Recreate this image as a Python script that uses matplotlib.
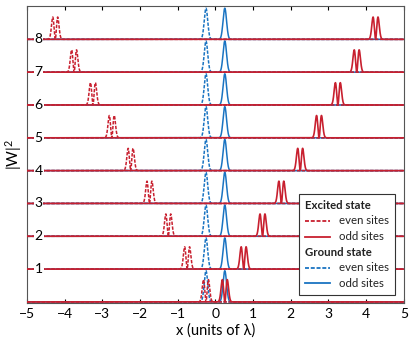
import numpy as np
import matplotlib
matplotlib.use("Agg")
import matplotlib.pyplot as plt
from matplotlib.lines import Line2D
from matplotlib.offsetbox import TextArea, DrawingArea, HPacker, VPacker, AnchoredOffsetbox

plt.rcParams['font.family'] = ['Lato', 'DejaVu Sans']

# ---- data ----
levels = [0, 1, 2, 3, 4, 5, 6, 7, 8]
excited_odd_centers = [0.25, 0.75, 1.25, 1.75, 2.25, 2.75, 3.25, 3.75, 4.25]
excited_even_centers = [-0.25, -0.75, -1.25, -1.75, -2.25, -2.75, -3.25, -3.75, -4.25]
ground_even_center = -0.25
ground_odd_center = 0.25
ground_height = 0.95
excited_height = 0.68
peak_width = 0.046
xticks = [-5, -4, -3, -2, -1, 0, 1, 2, 3, 4, 5]
xtick_labels = ['\u22125', '\u22124', '\u22123', '\u22122', '\u22121', '0', '1', '2', '3', '4', '5']
ytick_labels = ['1', '2', '3', '4', '5', '6', '7', '8']

red = '#c8202f'
blue = '#1a74c2'
dot = (0, (2.2, 1.0))

x = np.linspace(-5, 5, 6001)

def ground(c):
    return ground_height * np.exp(-(x - c) ** 2 / (2 * peak_width ** 2))

def excited(c):
    u = (x - c) / peak_width
    return excited_height * (u ** 2 / 2.0) * np.exp(1 - u ** 2 / 2.0)

fig = plt.figure(figsize=(4.15, 3.45), dpi=100)
ax = fig.add_axes([0.065, 0.122, 0.908, 0.861])

for i, n in enumerate(levels):
    ax.plot(x, n + ground(ground_even_center), color=blue, lw=1.1, ls=dot, zorder=2)
    ax.plot(x, n + ground(ground_odd_center), color=blue, lw=1.1, zorder=2)
    ax.plot(x, n + excited(excited_even_centers[i]), color=red, lw=1.1, ls=dot, zorder=3)
    ax.plot(x, n + excited(excited_odd_centers[i]), color=red, lw=1.2, zorder=4)

ax.set_xlim(-5, 5)
ax.set_ylim(-0.03, 9.02)
ax.set_xticks(xticks)
ax.set_xticklabels(xtick_labels)
ax.tick_params(axis='x', direction='in', top=True, length=3, labelsize=10, pad=4)
ax.set_yticks([])
for n, lab in zip(levels[1:], ytick_labels):
    ax.text(-4.69, n, lab, ha='center', va='center', fontsize=10, zorder=6,
            bbox=dict(facecolor='white', edgecolor='none', pad=0.6))

for s in ax.spines.values():
    s.set_color('#555555')
    s.set_linewidth(0.8)

ax.set_xlabel('x (units of λ)', fontsize=10.5, labelpad=2)
ax.set_ylabel(r'$\mathregular{|W|^2}$', fontsize=11, labelpad=2)

# ---- legend built from offset boxes ----
fs = 8.2
def header(txt):
    return TextArea(txt, textprops=dict(fontsize=fs, fontweight='bold', color='#222222'))

def entry(color, ls, label):
    da = DrawingArea(18, 8, 0, 0)
    da.add_artist(Line2D([0, 18], [4, 4], color=color, ls=ls, lw=1.3))
    ta = TextArea(label, textprops=dict(fontsize=fs, color='#222222'))
    return HPacker(children=[da, ta], pad=0, sep=6, align='center')

box = VPacker(children=[
    header('Excited state'),
    entry(red, dot, 'even sites'),
    entry(red, '-', 'odd sites'),
    header('Ground state'),
    entry(blue, dot, 'even sites'),
    entry(blue, '-', 'odd sites'),
], align='left', pad=0, sep=3.2)

anch = AnchoredOffsetbox(loc='lower right', child=box, pad=0.45, borderpad=0, frameon=True,
                         bbox_to_anchor=(0.976, 0.027), bbox_transform=ax.transAxes)
anch.patch.set_edgecolor('#333333')
anch.patch.set_linewidth(0.8)
anch.patch.set_boxstyle('square', pad=0)
anch.set_zorder(10)
ax.add_artist(anch)

fig.savefig('out.png', dpi=100)
